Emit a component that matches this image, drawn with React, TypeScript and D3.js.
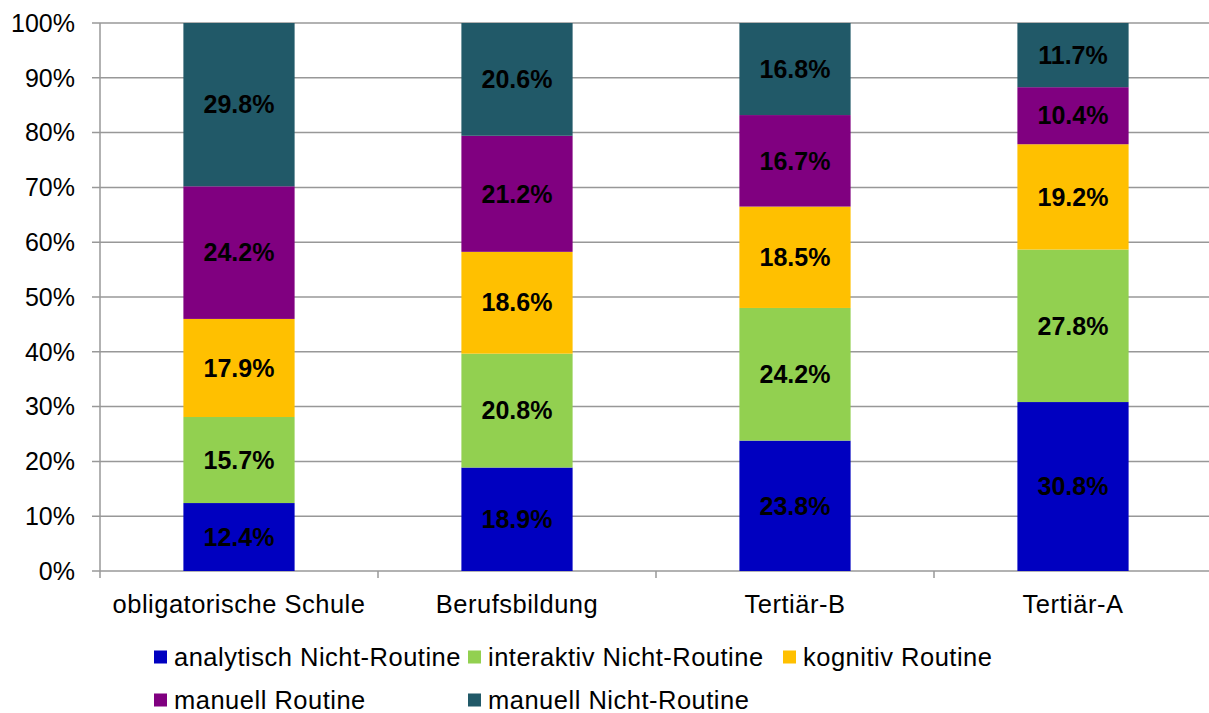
import React from "react";
import * as d3 from "d3";

const categories = ["obligatorische Schule", "Berufsbildung", "Tertiär-B", "Tertiär-A"];
const seriesNames = [
  "analytisch Nicht-Routine",
  "interaktiv Nicht-Routine",
  "kognitiv Routine",
  "manuell Routine",
  "manuell Nicht-Routine",
];
const analytischNR = [12.4, 18.9, 23.8, 30.8];
const interaktivNR = [15.7, 20.8, 24.2, 27.8];
const kognitivR = [17.9, 18.6, 18.5, 19.2];
const manuellR = [24.2, 21.2, 16.7, 10.4];
const manuellNR = [29.8, 20.6, 16.8, 11.7];
const colors = ["#0000C0", "#92D050", "#FFC000", "#800080", "#215968"];
const yTicks = [0, 0.1, 0.2, 0.3, 0.4, 0.5, 0.6, 0.7, 0.8, 0.9, 1];

const W = 1209;
const H = 713;
const font = "'Liberation Sans', Arial, sans-serif";

export default function App() {
  const values = [analytischNR, interaktivNR, kognitivR, manuellR, manuellNR];
  const rows = categories.map((c, i) => {
    const r: any = { cat: c };
    seriesNames.forEach((s, j) => (r[s] = values[j][i]));
    return r;
  });
  const stacked = d3
    .stack<any>()
    .keys(seriesNames)
    .offset(d3.stackOffsetExpand)(rows);

  const x = d3.scaleBand().domain(categories).range([100, 1212]);
  const y = d3.scaleLinear().domain([0, 1]).range([571, 23]);
  const bw = x.bandwidth() * 0.4;

  const legendCols = [154, 468, 783];
  const legendRows = [657, 700];

  return (
    <svg
      width={W}
      height={H}
      style={{ position: "absolute", left: 0, top: 0, background: "#fff" }}
      fontFamily={font}
    >
      {yTicks.map((t) => (
        <g key={t}>
          <line x1={92} x2={W} y1={y(t)} y2={y(t)} stroke="#989898" strokeWidth={1.5} />
          <text x={75} y={y(t)} dy="0.35em" textAnchor="end" fontSize={25} fill="#000">
            {Math.round(t * 100)}%
          </text>
        </g>
      ))}
      <line x1={100} x2={100} y1={23} y2={578} stroke="#989898" strokeWidth={1.5} />
      {categories.slice(1).map((c) => (
        <line key={c} x1={x(c)!} x2={x(c)!} y1={571} y2={578} stroke="#989898" strokeWidth={1.5} />
      ))}
      {stacked.map((layer, j) => (
        <g key={layer.key}>
          {layer.map((d, i) => {
            const cx = x(categories[i])! + x.bandwidth() / 2;
            return (
              <g key={i}>
                <rect
                  x={cx - bw / 2}
                  y={y(d[1])}
                  width={bw}
                  height={y(d[0]) - y(d[1])}
                  fill={colors[j]}
                />
                <text
                  x={cx}
                  y={(y(d[0]) + y(d[1])) / 2}
                  dy="0.35em"
                  textAnchor="middle"
                  fontSize={25}
                  fontWeight="bold"
                  fill="#000"
                >
                  {values[j][i].toFixed(1)}%
                </text>
              </g>
            );
          })}
        </g>
      ))}
      {categories.map((c) => (
        <text
          key={c}
          x={x(c)! + x.bandwidth() / 2}
          y={604}
          dy="0.35em"
          textAnchor="middle"
          fontSize={25.5}
          letterSpacing={0.5}
          fill="#000"
        >
          {c}
        </text>
      ))}
      {seriesNames.map((s, j) => {
        const px = legendCols[j < 3 ? j : j - 3];
        const py = j < 3 ? legendRows[0] : legendRows[1];
        return (
          <g key={s}>
            <rect x={px} y={py - 6.5} width={13} height={13} fill={colors[j]} />
            <text x={px + 20} y={py} dy="0.35em" fontSize={25.5} letterSpacing={0.5} fill="#000">
              {s}
            </text>
          </g>
        );
      })}
    </svg>
  );
}
